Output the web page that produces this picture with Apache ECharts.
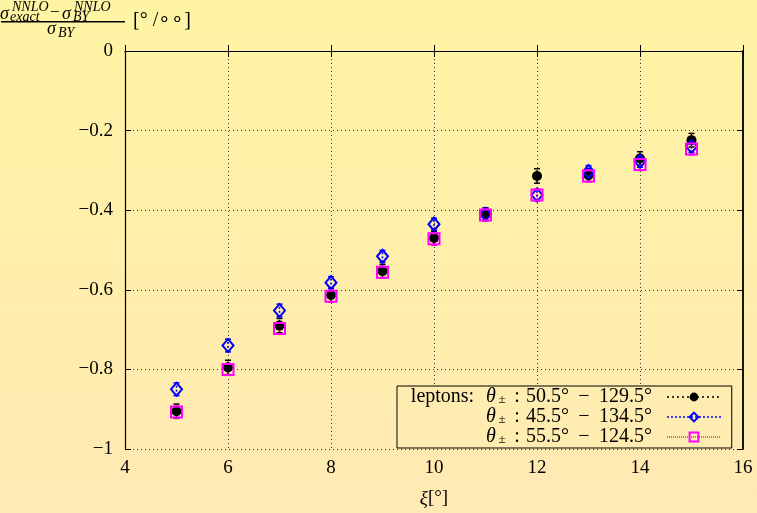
<!DOCTYPE html>
<html>
<head>
<meta charset="utf-8">
<script src="https://cdn.jsdelivr.net/npm/echarts@6/dist/echarts.min.js"></script>
<style>
  html, body { margin: 0; padding: 0; }
  #main {
    width: 757px; height: 513px;
    background: linear-gradient(to bottom, #fff4a4 0%, #ffeeac 60%, #ffe9b4 100%);
  }
</style>
</head>
<body>
<div id="main"></div>
<script>
// xi [deg]
var xi = [5, 6, 7, 8, 9, 10, 11, 12, 13, 14, 15];

// relative difference [per mille] for the three lepton angular cuts
var cut50 = [-0.905, -0.795, -0.690, -0.613, -0.553, -0.470, -0.410, -0.314, -0.312, -0.270, -0.224];
var cut45 = [-0.850, -0.740, -0.652, -0.582, -0.516, -0.435, -0.410, -0.362, -0.303, -0.277, -0.240];
var cut55 = [-0.907, -0.800, -0.697, -0.616, -0.556, -0.472, -0.412, -0.362, -0.314, -0.285, -0.246];

// error bars
var err50 = [0.018, 0.018, 0.018, 0.017, 0.017, 0.017, 0.016, 0.018, 0.016, 0.017, 0.017];
var err45 = [0.016, 0.016, 0.016, 0.015, 0.015, 0.015, 0.015, 0.015, 0.015, 0.015, 0.015];
var err55 = [0.015, 0.015, 0.015, 0.015, 0.015, 0.015, 0.015, 0.015, 0.015, 0.015, 0.015];

var cuts = { cut50: ['50.5', '129.5'], cut45: ['45.5', '134.5'], cut55: ['55.5', '124.5'] };

var serif = 'Liberation Serif';
var myChart = echarts.init(document.getElementById('main'));

function pairs(ys) {
  return xi.map(function (x, i) { return [x, ys[i]]; });
}
function errData(ys, es) {
  return xi.map(function (x, i) { return [x, ys[i] - es[i], ys[i] + es[i]]; });
}
function errSeries(ys, es, color, dash) {
  return {
    type: 'custom',
    silent: true,
    z: 1,
    data: errData(ys, es),
    renderItem: function (params, api) {
      var lo = api.coord([api.value(0), api.value(1)]);
      var hi = api.coord([api.value(0), api.value(2)]);
      var cap = 3;
      return {
        type: 'group',
        children: [
          { type: 'line', shape: { x1: lo[0], y1: lo[1], x2: hi[0], y2: hi[1] },
            style: { stroke: color, lineWidth: 1.5, lineDash: dash } },
          { type: 'line', shape: { x1: lo[0] - cap, y1: lo[1], x2: lo[0] + cap, y2: lo[1] },
            style: { stroke: color, lineWidth: 1.5 } },
          { type: 'line', shape: { x1: hi[0] - cap, y1: hi[1], x2: hi[0] + cap, y2: hi[1] },
            style: { stroke: color, lineWidth: 1.5 } }
        ]
      };
    }
  };
}
function fmtY(v) {
  if (v === 0) return '0';
  if (v === -1) return '\u22121';
  return '\u2212' + Math.abs(v).toFixed(1);
}

var LH = 19;
var legendRich = {
  lep: { width: 82, fontFamily: serif, fontSize: 20, lineHeight: LH },
  pad: { width: 82, fontSize: 20, lineHeight: LH },
  th: { width: 10, fontFamily: serif, fontStyle: 'italic', fontSize: 20, lineHeight: LH },
  sub: { width: 12, fontFamily: serif, fontSize: 13, lineHeight: 13, verticalAlign: 'bottom' },
  c: { width: 18, align: 'center', fontFamily: serif, fontSize: 20, lineHeight: LH },
  n: { fontFamily: serif, fontSize: 20, lineHeight: LH },
  m: { width: 30, align: 'center', fontFamily: serif, fontSize: 20, lineHeight: LH },
  end: { width: 10, fontSize: 20, lineHeight: LH }
};
function legendFmt(name) {
  var head = name === 'cut50' ? '{lep|leptons: }' : '{pad| }';
  return head + '{th|\u03b8}{sub|\u00b1}{c|:}{n|' + cuts[name][0] + '\u00b0}{m|\u2212}{n|' +
    cuts[name][1] + '\u00b0}{end| }';
}

var axisLine = { show: true, lineStyle: { color: '#000', width: 1.2 } };
var axisTick = { show: true, inside: true, length: 6, lineStyle: { color: '#000' } };
var gridLine = { show: true, lineStyle: { color: '#333', type: [1, 3], width: 1 } };

function txt(x, y, s, font) {
  return { type: 'text', x: x, y: y,
    style: { text: s, font: font, fill: '#000', align: 'left', verticalAlign: 'middle' } };
}

var option = {
  animation: false,
  backgroundColor: 'transparent',
  grid: { left: 125, right: 14, top: 51, bottom: 62 },
  xAxis: [{
    type: 'value', min: 4, max: 16, interval: 2,
    axisLine: axisLine, axisTick: axisTick,
    axisLabel: { color: '#000', fontFamily: serif, fontSize: 19, margin: 10 },
    splitLine: gridLine,
    name: '{i|\u03be}{r|[\u00b0]}', nameLocation: 'middle', nameGap: 40,
    nameTextStyle: { rich: {
      i: { fontFamily: serif, fontStyle: 'italic', fontSize: 19, color: '#000' },
      r: { fontFamily: serif, fontSize: 19, color: '#000' }
    } }
  }, {
    type: 'value', position: 'top', min: 4, max: 16, interval: 2,
    axisLine: axisLine, axisTick: axisTick,
    axisLabel: { show: false }, splitLine: { show: false }
  }],
  yAxis: [{
    type: 'value', min: -1, max: 0, interval: 0.2,
    axisLine: axisLine, axisTick: axisTick,
    axisLabel: { color: '#000', fontFamily: serif, fontSize: 19, margin: 12, formatter: fmtY },
    splitLine: gridLine
  }, {
    type: 'value', position: 'right', min: -1, max: 0, interval: 0.2,
    axisLine: { show: true, lineStyle: { color: '#000', width: 1.8 } }, axisTick: axisTick,
    axisLabel: { show: false }, splitLine: { show: false }
  }],
  legend: {
    orient: 'vertical', left: 397, top: 386, align: 'right',
    itemWidth: 54, itemHeight: 11, itemGap: 0,
    padding: [1, 10, 1, 7],
    backgroundColor: '#ffecb0', borderColor: '#000', borderWidth: 1, borderRadius: 0,
    selectedMode: false,
    textStyle: { color: '#000', fontFamily: serif, fontSize: 20, rich: legendRich },
    formatter: legendFmt,
    data: [
      { name: 'cut50', lineStyle: { color: '#000', width: 1.5, type: [2, 3], opacity: 1 } },
      { name: 'cut45', lineStyle: { color: '#0000ff', width: 1.5, type: [2, 2], opacity: 1 } },
      { name: 'cut55', lineStyle: { color: '#ff00ff', width: 1.5, type: [1, 1], opacity: 1 } }
    ]
  },
  graphic: [
    { type: 'group', left: 0, top: 0, children: [
      txt(12, 19, '\u03c3', 'italic 18px ' + serif),
      txt(24, 12, 'NNLO', 'italic 14px ' + serif),
      txt(22, 22, 'exact', 'italic 14px ' + serif),
      txt(62, 18, '\u2212', '17px ' + serif),
      txt(74, 19, '\u03c3', 'italic 18px ' + serif),
      txt(86, 12, 'NNLO', 'italic 14px ' + serif),
      txt(85, 22, 'BY', 'italic 14px ' + serif),
      { type: 'rect', shape: { x: 13, y: 26, width: 124, height: 1.4 }, style: { fill: '#000' } },
      txt(59, 34, '\u03c3', 'italic 18px ' + serif),
      txt(70, 38, 'BY', 'italic 14px ' + serif),
      txt(145, 26, '[\u00b0 /\u2218\u2218]', '20px ' + serif)
    ] }
  ],
  series: [
    errSeries(cut50, err50, '#000', [3, 2]),
    errSeries(cut45, err45, '#0000ff', [2, 2]),
    errSeries(cut55, err55, '#ff00ff', [1, 1]),
    {
      name: 'cut50', type: 'line', z: 3, data: pairs(cut50),
      symbol: 'circle', symbolSize: 10, showAllSymbol: true,
      itemStyle: { color: '#000' },
      lineStyle: { opacity: 0, width: 0 }
    },
    {
      name: 'cut45', type: 'line', z: 4, data: pairs(cut45),
      symbol: 'diamond', symbolSize: [11, 13], showAllSymbol: true,
      itemStyle: { color: 'rgba(0,0,0,0)', borderColor: '#0000ff', borderWidth: 2 },
      lineStyle: { opacity: 0, width: 0 }
    },
    {
      name: 'cut55', type: 'line', z: 5, data: pairs(cut55),
      symbol: 'rect', symbolSize: 11, showAllSymbol: true,
      itemStyle: { color: 'rgba(0,0,0,0)', borderColor: '#ff00ff', borderWidth: 2 },
      lineStyle: { opacity: 0, width: 0 }
    }
  ]
};

myChart.setOption(option);
</script>
</body>
</html>
